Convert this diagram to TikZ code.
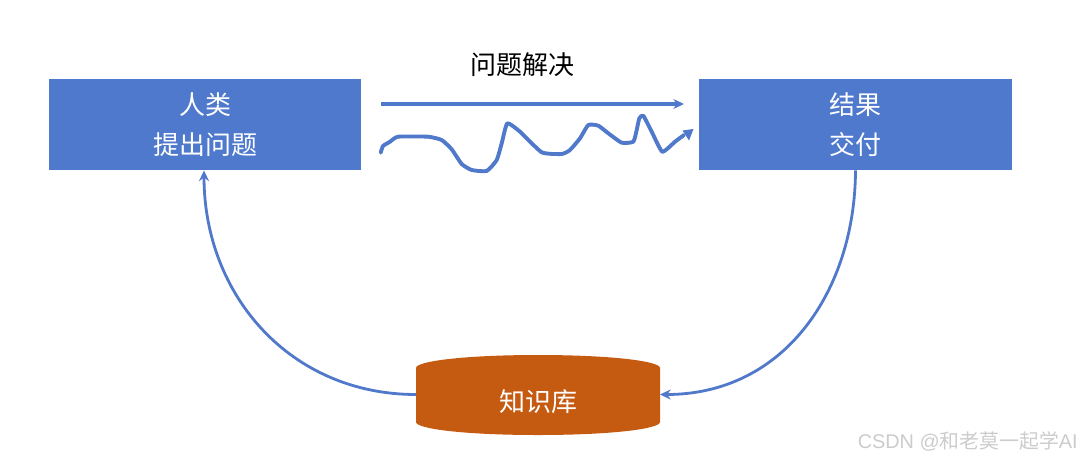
\documentclass[tikz,border=0pt]{standalone}
\usepackage{fontspec}
\setmainfont{Noto Sans CJK SC}
\newfontfamily\wmlatin{Liberation Sans}
\usetikzlibrary{arrows.meta,calc}
\definecolor{boxblue}{HTML}{4F79CC}
\definecolor{lineblue}{HTML}{5079CB}
\definecolor{dbfill}{HTML}{C55A11}
\definecolor{wm}{HTML}{CCCCCC}
\tikzset{
  x=0.75pt,y=-0.75pt,
  bluebox/.style={draw=none,fill=boxblue,text=white,minimum width=234.5pt,minimum height=68.5pt,inner sep=0pt,align=center,font=\fontsize{19.5pt}{30pt}\selectfont},
  conn/.style={draw=lineblue,line width=2.1pt,-{Stealth[length=8pt,width=7.5pt]}},
  wiggle/.style={draw=lineblue,line width=2.9pt,line cap=round,line join=round},
  lbl/.style={inner sep=0pt,font=\fontsize{19.5pt}{24pt}\selectfont},
}
\begin{document}
\begin{tikzpicture}
\useasboundingbox (0,0) rectangle (1080,457);
\fill[white] (0,0) rectangle (1080,457);
\node[bluebox] (human) at (205,124.5) {人类\\提出问题};
\node[bluebox] (result) at (855.5,124.5) {结果\\交付};
\fill[dbfill] (416,368) .. controls (416,361) and (466,355) .. (538,355)
  .. controls (610,355) and (660,361) .. (660,368) -- (660,422)
  .. controls (660,429) and (610,435) .. (538,435)
  .. controls (466,435) and (416,429) .. (416,422) -- cycle;
\node[lbl,text=white] (kb) at (538,402) {知识库};
\coordinate (kbW) at (416,394.5);
\coordinate (kbE) at (660,394.5);
\node[lbl,text=black] (title) at (522,65) {问题解决};
\coordinate (a1) at (381,104);
\coordinate (a2) at (684,104);
\draw[conn,line width=2.8pt] (a1) -- (a2);
\coordinate (w1) at (380.7,152.7);
\coordinate (w2) at (693.5,129);
\draw[wiggle] plot[smooth,tension=0.3] coordinates {(w1) (383,146) (390,141.7) (398,136.7) (428,136.7) (441.7,140) (451.7,149.3) (461.7,164) (471.7,170) (486.7,171) (496.7,160) (501.7,143.3) (507.3,123.3) (520,131.7) (541.7,152.3) (561.7,154) (570,150) (580,138.3) (588.3,125) (598.3,125.7) (608.3,133.3) (621.7,142.7) (633.3,141.7) (636.7,130) (639.3,118.3) (643.3,115.7) (651.7,131.7) (662.3,151.7) (675,141.7) (684,135)};
\fill[lineblue] (w2) -- (682.5,130.5) -- (689,140.5) -- cycle;
\draw[conn] (kbW) .. controls (290,394.5) and (204,295) .. (human.south -| 204,170);
\draw[conn] (result.south) .. controls (855,290) and (785,394.5) .. (kbE);
\node[anchor=east,inner sep=0pt,text=wm,font=\fontsize{14.9pt}{18pt}\selectfont] (mark) at (1078,441) {{\wmlatin CSDN @}和老莫一起学{\wmlatin AI}};
\end{tikzpicture}
\end{document}
